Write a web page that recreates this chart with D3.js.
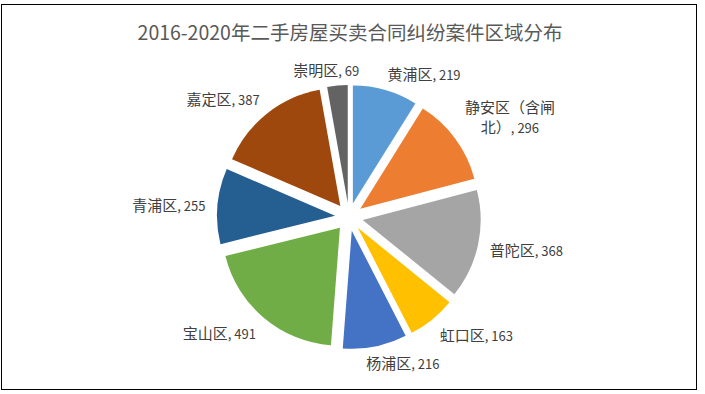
<!DOCTYPE html>
<html>
<head>
<meta charset="utf-8">
<script src="https://cdn.jsdelivr.net/npm/d3@7"></script>
<style>
  body { margin: 0; background: #fff; }
  text { font-family: "Noto Sans CJK SC", "Noto Sans", sans-serif; }
</style>
</head>
<body>
<svg id="chart" width="705" height="394"></svg>
<script>
// ── data ──
const districts = ["黄浦区", "静安区（含闸北）", "普陀区", "虹口区", "杨浦区", "宝山区", "青浦区", "嘉定区", "崇明区"];
const cases = [219, 296, 368, 163, 216, 491, 255, 387, 69];
const sliceColors = ["#5B9BD5", "#ED7D31", "#A5A5A5", "#FFC000", "#4472C4", "#70AD47", "#255E91", "#9E480E", "#636363"];
const title = "2016-2020年二手房屋买卖合同纠纷案件区域分布";

const W = 705, H = 394;
const cx = 349, cy = 217, R = 118, explode = 14;
const clamp = (v, lo, hi) => Math.max(lo, Math.min(hi, v));

const svg = d3.select("#chart");
svg.append("rect").attr("width", W).attr("height", H).attr("fill", "#fff");
svg.append("rect").attr("x", 1.5).attr("y", 4.5).attr("width", 695).attr("height", 385)
  .attr("fill", "none").attr("stroke", "#000").attr("stroke-width", 1);

svg.append("text").attr("x", 350).attr("y", 33).attr("dy", "0.35em")
  .attr("text-anchor", "middle").style("font-size", "19.5px").style("fill", "#595959")
  .text(title);

const data = districts.map((name, i) => ({ name, value: cases[i], color: sliceColors[i] }));
const pie = d3.pie().sort(null).value(d => d.value);
const arcs = pie(data);
const arc = d3.arc().innerRadius(0).outerRadius(R);

const gPie = svg.append("g").attr("transform", `translate(${cx},${cy})`);

gPie.selectAll("path").data(arcs).join("path")
  .attr("d", arc)
  .attr("fill", d => d.data.color)
  .attr("transform", d => {
    const m = (d.startAngle + d.endAngle) / 2;
    return `translate(${explode * Math.sin(m)},${-explode * Math.cos(m)})`;
  });

// ── labels: outside end, wrapped when too wide ──
const maxW = 95, lineH = 20;
const kx = 3.5, ky = 1.5, gapX = 12, gapY = 6;
const gLbl = svg.append("g");

function measure(str, size) {
  const t = gLbl.append("text").style("font-size", size + "px").text(str);
  const w = t.node().getComputedTextLength();
  t.remove();
  return w;
}

arcs.forEach(d => {
  const name = d.data.name, num = ", " + d.data.value;
  // split name into lines by width
  const lines = [];
  let cur = "";
  for (const ch of name) {
    if (measure(cur + ch, 15) > maxW) { lines.push({ t: cur, n: "" }); cur = ch; }
    else cur += ch;
  }
  lines.push({ t: cur, n: num });

  const g = gLbl.append("g");
  const txt = g.append("text").attr("text-anchor", "middle").style("fill", "#404040");
  lines.forEach((ln, i) => {
    const el = txt.append("tspan").attr("x", 0).attr("y", i * lineH);
    el.append("tspan").style("font-size", "15px").text(ln.t);
    if (ln.n) el.append("tspan").style("font-size", "13px").text(ln.n);
  });
  const bb = txt.node().getBBox();
  const m = (d.startAngle + d.endAngle) / 2;
  const s = Math.sin(m), c = -Math.cos(m);
  const px = cx + (R + explode) * s, py = cy + (R + explode) * c;
  const bx = px + s * gapX + bb.width / 2 * clamp(kx * s, -1, 1);
  const by = py + c * gapY + bb.height / 2 * clamp(ky * c, -1, 1);
  g.attr("transform", `translate(${bx - (bb.x + bb.width / 2)},${by - (bb.y + bb.height / 2)})`);
});
</script>
</body>
</html>
